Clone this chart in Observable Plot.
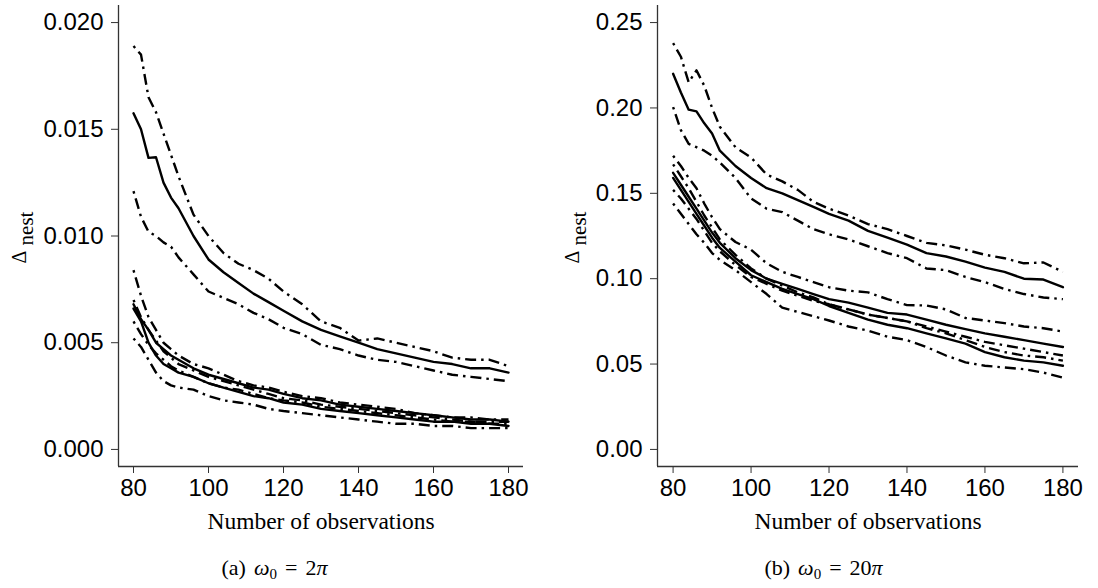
<!DOCTYPE html>
<html>
<head>
<meta charset="utf-8">
<script src="https://cdn.jsdelivr.net/npm/d3@7"></script>
<script src="https://cdn.jsdelivr.net/npm/@observablehq/plot@0.6"></script>
<style>
  html, body { margin: 0; padding: 0; background: #fff; }
  #wrap { display: flex; width: 1098px; height: 588px; }
  .panel { width: 549px; }
  .cap { height: 46px; line-height: 46px; text-align: center; font-family: "Liberation Serif", serif; font-size: 22px; color: #000; }
  .cap sub { font-size: 15px; vertical-align: -4px; line-height: 0; }
  .cap .sp1 { margin-right: 8px; }
  .cap .eq { margin: 0 8px; }
</style>
</head>
<body>
<div id="wrap">
  <div class="panel" id="pa"><div class="cap" id="capa"></div></div>
  <div class="panel" id="pb"><div class="cap" id="capb"></div></div>
</div>
<script>
// Number of observations (shared x values)
const xs = [80,82,84,86,88,90,92,96,100,104,108,112,116,120,125,130,135,140,145,150,155,160,165,170,175,180];

// Panel (a) omega0 = 2*pi
const a1Mean  = [0.01575,0.0150,0.01366,0.01369,0.0125,0.0118,0.0113,0.0100,0.0089,0.0083,0.0078,0.0073,0.0069,0.0065,0.0060,0.0056,0.0053,0.0050,0.0047,0.0045,0.0043,0.0041,0.0040,0.0038,0.0038,0.0036];
const a1Upper = [0.0189,0.0185,0.0165,0.0158,0.0148,0.0138,0.0128,0.0110,0.0100,0.0092,0.0087,0.0084,0.0080,0.0074,0.0068,0.0060,0.0057,0.0051,0.0052,0.0050,0.0048,0.0046,0.0043,0.0042,0.0042,0.0039];
const a1Lower = [0.0121,0.0109,0.0102,0.0100,0.0097,0.0095,0.0090,0.0082,0.0074,0.0071,0.0068,0.0064,0.0061,0.0057,0.0054,0.0049,0.0047,0.0044,0.0042,0.0041,0.0039,0.0037,0.0035,0.0034,0.0033,0.0032];
const a2Mean  = [0.0068,0.0061,0.0056,0.0050,0.0047,0.0044,0.0042,0.0038,0.0035,0.0033,0.0031,0.0029,0.0028,0.0026,0.0024,0.0023,0.0021,0.0020,0.0019,0.0018,0.0017,0.0016,0.0015,0.0014,0.0014,0.0013];
const a2Upper = [0.0084,0.0072,0.0062,0.0056,0.0050,0.0047,0.0044,0.0040,0.0038,0.0035,0.0032,0.0030,0.0029,0.0027,0.0025,0.0024,0.0022,0.0021,0.0020,0.0019,0.0017,0.0016,0.0015,0.0015,0.0014,0.0014];
const a2Lower = [0.0060,0.0054,0.0049,0.0045,0.0042,0.0039,0.0037,0.0034,0.0031,0.0029,0.0028,0.0026,0.0024,0.0023,0.0022,0.0020,0.0019,0.0018,0.0017,0.0016,0.0015,0.0014,0.0013,0.0013,0.0012,0.0012];
const a3Mean  = [0.0066,0.0060,0.0050,0.0044,0.0040,0.0038,0.0036,0.0034,0.0031,0.0029,0.0027,0.0025,0.0024,0.0022,0.0021,0.0019,0.0018,0.0017,0.0016,0.0015,0.0014,0.0013,0.0013,0.0012,0.0012,0.0011];
const a3Upper = [0.0070,0.0062,0.0056,0.0051,0.0046,0.0043,0.0040,0.0037,0.0034,0.0032,0.0030,0.0028,0.0026,0.0024,0.0023,0.0021,0.0020,0.0019,0.0018,0.0017,0.0016,0.0015,0.0014,0.0013,0.0013,0.0013];
const a3Lower = [0.0052,0.0048,0.0042,0.0036,0.0032,0.0030,0.0029,0.0028,0.0025,0.0023,0.0022,0.0021,0.0019,0.0018,0.0017,0.0016,0.0015,0.0014,0.0013,0.0012,0.0012,0.0011,0.0011,0.0010,0.0010,0.0010];

// Panel (b) omega0 = 20*pi
const b1Mean  = [0.220,0.209,0.199,0.198,0.191,0.185,0.175,0.166,0.159,0.153,0.150,0.146,0.142,0.138,0.134,0.128,0.124,0.120,0.115,0.113,0.110,0.1065,0.104,0.100,0.0995,0.095];
const b1Upper = [0.238,0.230,0.215,0.222,0.213,0.200,0.189,0.177,0.171,0.161,0.157,0.152,0.145,0.141,0.137,0.132,0.129,0.125,0.121,0.1195,0.117,0.114,0.112,0.109,0.1095,0.104];
const b1Lower = [0.2005,0.187,0.179,0.177,0.175,0.172,0.168,0.159,0.147,0.141,0.139,0.134,0.129,0.126,0.123,0.119,0.115,0.112,0.106,0.105,0.101,0.098,0.094,0.091,0.089,0.088];
const b2Mean  = [0.162,0.155,0.148,0.141,0.134,0.127,0.121,0.112,0.105,0.100,0.097,0.094,0.091,0.088,0.086,0.083,0.080,0.079,0.076,0.073,0.0705,0.068,0.066,0.064,0.062,0.060];
const b2Upper = [0.172,0.166,0.159,0.153,0.144,0.136,0.129,0.1215,0.117,0.109,0.104,0.101,0.098,0.095,0.093,0.092,0.088,0.0845,0.0843,0.082,0.077,0.0755,0.074,0.072,0.071,0.069];
const b2Lower = [0.152,0.147,0.141,0.135,0.128,0.121,0.116,0.108,0.101,0.097,0.093,0.090,0.087,0.085,0.082,0.079,0.077,0.075,0.072,0.069,0.066,0.063,0.061,0.059,0.057,0.055];
const b3Mean  = [0.159,0.152,0.145,0.138,0.131,0.124,0.118,0.110,0.102,0.098,0.094,0.091,0.088,0.084,0.080,0.076,0.073,0.071,0.068,0.065,0.062,0.057,0.054,0.052,0.051,0.049];
const b3Upper = [0.167,0.160,0.153,0.145,0.137,0.130,0.123,0.114,0.106,0.100,0.096,0.092,0.089,0.085,0.082,0.079,0.077,0.075,0.071,0.068,0.064,0.060,0.057,0.055,0.054,0.052];
const b3Lower = [0.144,0.138,0.132,0.126,0.121,0.115,0.111,0.105,0.098,0.091,0.083,0.0805,0.078,0.0755,0.072,0.0696,0.066,0.064,0.060,0.055,0.051,0.049,0.048,0.047,0.045,0.042];

const ticksA = [0, 0.005, 0.010, 0.015, 0.020];
const ticksB = [0, 0.05, 0.10, 0.15, 0.20, 0.25];
const ticksX = [80, 100, 120, 140, 160, 180];
const xTitle = "Number of observations";

function tidy(seriesMap) {
  const out = [];
  for (const [name, vals] of Object.entries(seriesMap)) {
    vals.forEach((v, i) => out.push({series: name, n: xs[i], v}));
  }
  return out;
}

function panel({solid, dashed, yDomain, yTicks, yFmt, marginLeft, marginRight, labelShift}) {
  return Plot.plot({
    width: 549,
    height: 545,
    marginTop: 5,
    marginBottom: 79,
    marginLeft,
    marginRight,
    style: {fontFamily: "'Liberation Sans', Arial, sans-serif", fontSize: "24px", background: "#fff", overflow: "visible"},
    x: {domain: [76, 184]},
    y: {domain: yDomain},
    marks: [
      Plot.ruleX([76], {stroke: "#333", strokeWidth: 1.3}),
      Plot.ruleY([yDomain[0]], {stroke: "#333", strokeWidth: 1.3}),
      Plot.axisY({ticks: yTicks, tickFormat: d3.format(yFmt), tickSize: 7, tickPadding: 8, stroke: "#333", fill: "#000", fontSize: 24, label: null}),
      Plot.axisX({ticks: ticksX, tickFormat: d3.format("d"), tickSize: 7, tickPadding: 5, stroke: "#333", fill: "#000", fontSize: 24, label: null}),
      Plot.line(tidy(dashed), {x: "n", y: "v", z: "series", stroke: "#000", strokeWidth: 2.4, strokeDasharray: "2.5,5,11,5", strokeLinecap: "butt", strokeLinejoin: "round"}),
      Plot.line(tidy(solid), {x: "n", y: "v", z: "series", stroke: "#000", strokeWidth: 2.4, strokeLinejoin: "round"}),
      Plot.text([xTitle], {text: d => d, frameAnchor: "bottom", dy: 55, lineAnchor: "middle", fontFamily: "'Liberation Serif', serif", fontSize: 23.5, fill: "#000"}),
      Plot.text(["Δ"], {text: d => d, frameAnchor: "left", textAnchor: "middle", rotate: -90, dx: -(marginLeft - 25 - labelShift), dy: 21, lineAnchor: "bottom", fontFamily: "'Liberation Serif', serif", fontSize: 20, fill: "#000"}),
      Plot.text(["nest"], {text: d => d, frameAnchor: "left", textAnchor: "middle", rotate: -90, dx: -(marginLeft - 32 - labelShift), dy: -7.5, lineAnchor: "bottom", fontFamily: "'Liberation Serif', serif", fontSize: 21, fill: "#000"})
    ]
  });
}

const plotA = panel({
  solid: {a1Mean, a2Mean, a3Mean},
  dashed: {a1Upper, a1Lower, a2Upper, a2Lower, a3Upper, a3Lower},
  yDomain: [-0.0008, 0.0208], yTicks: ticksA, yFmt: ".3f",
  marginLeft: 118, marginRight: 26, labelShift: 0
});
const plotB = panel({
  solid: {b1Mean, b2Mean, b3Mean},
  dashed: {b1Upper, b1Lower, b2Upper, b2Lower, b3Upper, b3Lower},
  yDomain: [-0.01, 0.26], yTicks: ticksB, yFmt: ".2f",
  marginLeft: 108, marginRight: 20, labelShift: 4
});

document.getElementById("pa").insertBefore(plotA, document.getElementById("capa"));
document.getElementById("pb").insertBefore(plotB, document.getElementById("capb"));
document.getElementById("capa").innerHTML = '<span class="sp1">(a)</span><i>ω</i><sub>0</sub><span class="eq">=</span>2<i>π</i>';
document.getElementById("capb").innerHTML = '<span class="sp1">(b)</span><i>ω</i><sub>0</sub><span class="eq">=</span>20<i>π</i>';
</script>
</body>
</html>
